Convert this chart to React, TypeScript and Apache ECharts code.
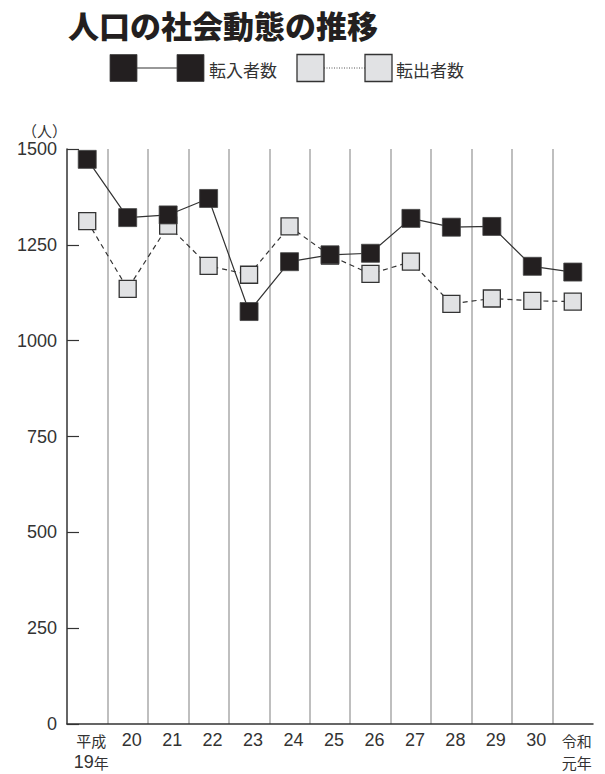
import React, { useEffect, useRef } from "react";
import * as echarts from "echarts";

const categories = ["平成\n19年", "20", "21", "22", "23", "24", "25", "26", "27", "28", "29", "30", "令和\n元年"];
const inMigration = [1473, 1321, 1328, 1371, 1076, 1206, 1224, 1228, 1319, 1296, 1298, 1194, 1179];
const outMigration = [1312, 1135, 1300, 1195, 1172, 1298, 1222, 1174, 1206, 1096, 1110, 1104, 1102];
const yTicks = { min: 0, max: 1500, interval: 250 };
const seriesNames = ["転入者数", "転出者数"];
const titleText = "人口の社会動態の推移";
const unitText = "（人）";

const LATIN = "'Liberation Sans', 'Noto Sans CJK JP', sans-serif";
const CJK = "'Noto Sans CJK JP', sans-serif";

export default function App() {
  const ref = useRef<HTMLDivElement>(null);
  useEffect(() => {
    if (!ref.current) return;
    const chart = echarts.init(ref.current, undefined, { renderer: "svg" });
    const legendY = 68;
    chart.setOption({
      animation: false,
      backgroundColor: "#ffffff",
      title: {
        text: titleText,
        left: 63,
        top: 4,
        textStyle: { fontFamily: CJK, fontSize: 31, fontWeight: 900, color: "#231f20" },
      },
      grid: { left: 67, right: 12, top: 149, bottom: 50, outerBoundsMode: "none", containLabel: false },
      xAxis: {
        type: "category",
        data: categories,
        boundaryGap: true,
        axisLine: { show: true, lineStyle: { color: "#333", width: 1.5 } },
        axisTick: { show: false },
        splitLine: {
          show: true,
          interval: 0,
          showMinLine: false,
          showMaxLine: false,
          lineStyle: { color: "#aaaaaa", width: 1.5 },
        },
        axisLabel: {
          interval: 0,
          margin: 5,
          fontFamily: LATIN,
          fontSize: 18,
          lineHeight: 22,
          color: "#333",
          padding: [0, 0, 0, 8],
          formatter: (v: string) => v.replace(/([^\x00-\x7F]+)/g, "{c|$1}"),
          rich: { c: { fontFamily: CJK, fontSize: 15, lineHeight: 22, color: "#333" } },
        },
      },
      yAxis: {
        type: "value",
        min: yTicks.min,
        max: yTicks.max,
        interval: yTicks.interval,
        name: unitText,
        nameLocation: "end",
        nameGap: 11,
        nameTextStyle: { fontFamily: CJK, fontSize: 15, color: "#333", align: "right", padding: [0, 0, 0, 0] },
        axisLine: { show: true, lineStyle: { color: "#333", width: 1.5 } },
        axisTick: { show: true, inside: true, length: 12, lineStyle: { color: "#333", width: 1.2 } },
        splitLine: { show: false },
        axisLabel: {
          margin: 10,
          fontFamily: LATIN,
          fontSize: 18,
          color: "#333",
          formatter: (v: number) => String(v),
        },
      },
      series: [
        {
          name: seriesNames[1],
          type: "line",
          data: outMigration,
          symbol: "rect",
          symbolSize: 17,
          showAllSymbol: true,
          itemStyle: { color: "#e1e2e4", borderColor: "#333", borderWidth: 1.3 },
          lineStyle: { color: "#333", width: 1.2, type: [5, 4] },
          z: 2,
        },
        {
          name: seriesNames[0],
          type: "line",
          data: inMigration,
          symbol: "rect",
          symbolSize: 18,
          showAllSymbol: true,
          itemStyle: { color: "#231f20", borderColor: "#444", borderWidth: 0.8 },
          lineStyle: { color: "#333", width: 1.2 },
          z: 3,
        },
      ],
      graphic: [
        { type: "line", shape: { x1: 137, y1: legendY, x2: 177, y2: legendY }, style: { stroke: "#333", lineWidth: 1.2 } },
        { type: "rect", shape: { x: 110, y: legendY - 13.5, width: 27, height: 27 }, style: { fill: "#231f20", stroke: "#444", lineWidth: 0.8 } },
        { type: "rect", shape: { x: 177, y: legendY - 13.5, width: 27, height: 27 }, style: { fill: "#231f20", stroke: "#444", lineWidth: 0.8 } },
        { type: "text", x: 209, y: legendY + 1, style: { text: seriesNames[0], font: "17px " + CJK, fill: "#333", verticalAlign: "middle" } },
        { type: "line", shape: { x1: 324, y1: legendY, x2: 365, y2: legendY }, style: { stroke: "#555", lineWidth: 1, lineDash: [1, 1.5] } },
        { type: "rect", shape: { x: 297, y: legendY - 13.5, width: 27, height: 27 }, style: { fill: "#e1e2e4", stroke: "#333", lineWidth: 1.3 } },
        { type: "rect", shape: { x: 365, y: legendY - 13.5, width: 27, height: 27 }, style: { fill: "#e1e2e4", stroke: "#333", lineWidth: 1.3 } },
        { type: "text", x: 396, y: legendY + 1, style: { text: seriesNames[1], font: "17px " + CJK, fill: "#333", verticalAlign: "middle" } },
      ],
    });
    return () => chart.dispose();
  }, []);
  return (
    <div
      ref={ref}
      style={{ position: "absolute", left: 0, top: 0, width: 605, height: 774, background: "#fff" }}
    />
  );
}
